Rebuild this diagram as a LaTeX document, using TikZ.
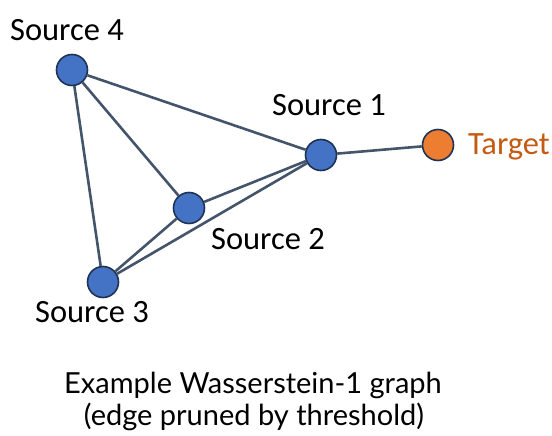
\documentclass[tikz,border=0pt]{standalone}
\usepackage{fontspec}
\setmainfont{Carlito}
\newfontfamily\capfont{Lato}
\definecolor{nodeblue}{HTML}{4472C4}
\definecolor{nodeorange}{HTML}{ED7D31}
\definecolor{rimcol}{HTML}{1F3354}
\definecolor{edgecol}{HTML}{44546A}
\definecolor{targettext}{HTML}{C55A11}
\begin{document}
\begin{tikzpicture}[x=1pt,y=-1pt,
  vert/.style={circle,draw=rimcol,line width=1.6pt,minimum size=31pt,inner sep=0pt,fill=nodeblue},
  edge/.style={draw=edgecol,line width=2.6pt},
  lab/.style={anchor=base,inner sep=0pt,font=\fontsize{32.5}{38}\selectfont},
  captext/.style={anchor=base,inner sep=0pt,font=\capfont\fontsize{29}{34}\selectfont}]
\useasboundingbox (0,0) rectangle (552,436);
\node[vert] (s4) at (72,70) {};
\node[vert] (s1) at (321,155) {};
\node[vert] (s2) at (189,208) {};
\node[vert] (s3) at (103,282) {};
\node[vert,fill=nodeorange] (t) at (438,145) {};
\draw[edge] (s4) -- (s1);
\draw[edge] (s4) -- (s2);
\draw[edge] (s4) -- (s3);
\draw[edge] (s1) -- (s2);
\draw[edge] (s1) -- (s3);
\draw[edge] (s2) -- (s3);
\draw[edge] (s1) -- (t);
\node[lab] (l4) at (67,41) {Source 4};
\node[lab] (l1) at (329,115) {Source 1};
\node[lab] (l2) at (268,249) {Source 2};
\node[lab] (l3) at (92,322) {Source 3};
\node[lab,text=targettext] (lt) at (509,154) {Target};
\node[captext] (c1) at (253,393) {Example Wasserstein-1 graph};
\node[captext] (c2) at (254,425) {(edge pruned by threshold)};
\end{tikzpicture}
\end{document}
